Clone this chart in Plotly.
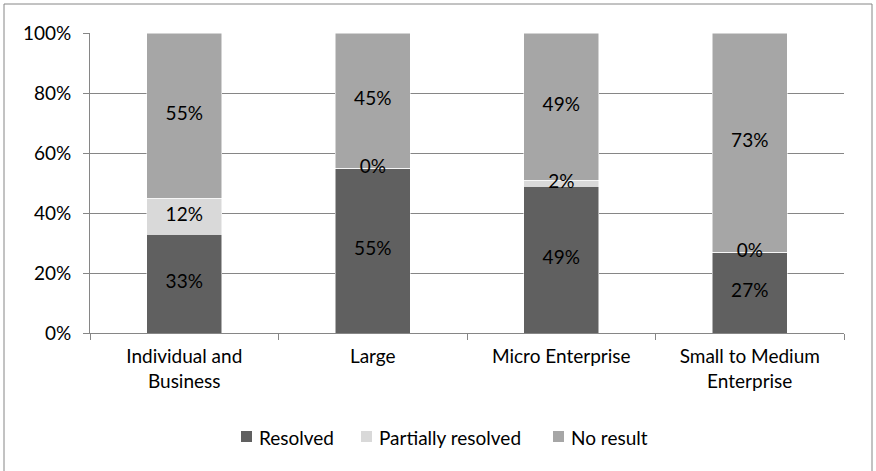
import plotly.graph_objects as go

categories = ["Individual and<br>Business", "Large", "Micro Enterprise", "Small to Medium<br>Enterprise"]
resolved = [33, 55, 49, 27]
partially_resolved = [12, 0, 2, 0]
no_result = [55, 45, 49, 73]

series = [
    ("Resolved", resolved, "#606060"),
    ("Partially resolved", partially_resolved, "#d9d9d9"),
    ("No result", no_result, "#a6a6a6"),
]

FONT = "Lato, Calibri, sans-serif"
FS = 19
W, H = 876, 471
ML, MR, MT, MB = 90, 32, 33, 138
pw = W - ML - MR
ph = H - MT - MB


def px_x(x):
    return (x - ML) / pw


def px_y(y):
    return (H - MB - y) / ph


fig = go.Figure()

# stacked 100% columns
for name, vals, color in series:
    fig.add_trace(go.Bar(
        x=categories, y=[v / 100 for v in vals], name=name, showlegend=False,
        marker=dict(color=color, line=dict(color="#ffffff", width=0.5)),
        hoverinfo="skip",
    ))

# value labels centred on each segment (including empty ones)
lx, ly, lt = [], [], []
for i, cat in enumerate(categories):
    base = 0
    for name, vals, color in series:
        v = vals[i]
        lx.append(cat)
        ly.append((base + v / 2) / 100)
        lt.append(f"{v}%")
        base += v
fig.add_trace(go.Scatter(
    x=lx, y=ly, text=lt, mode="text", showlegend=False,
    textfont=dict(family=FONT, size=FS, color="#000000"), hoverinfo="skip",
))

# outer chart frame
fig.add_shape(
    type="rect", xref="paper", yref="paper",
    x0=px_x(4), x1=px_x(872), y0=px_y(490), y1=px_y(4),
    line=dict(color="#868686", width=1), fillcolor="rgba(0,0,0,0)", layer="below",
)

# legend row: small square swatch followed by the series name
legend_left = [241, 361, 553]
for (name, vals, color), lx0 in zip(series, legend_left):
    fig.add_shape(
        type="rect", xref="paper", yref="paper",
        x0=px_x(lx0), x1=px_x(lx0 + 11), y0=px_y(442), y1=px_y(431),
        line=dict(width=0), fillcolor=color,
    )
    fig.add_annotation(
        xref="paper", yref="paper", x=px_x(lx0 + 16), y=px_y(437),
        xanchor="left", yanchor="middle", showarrow=False, text=name,
        font=dict(family=FONT, size=FS, color="#000000"),
    )

fig.update_layout(
    width=W, height=H, barmode="stack", bargap=0.6,
    margin=dict(l=ML, r=MR, t=MT, b=MB),
    paper_bgcolor="white", plot_bgcolor="white",
    font=dict(family=FONT, size=FS, color="#000000"),
    showlegend=False,
    xaxis=dict(showline=True, linecolor="#868686", linewidth=1,
               ticks="outside", tickson="boundaries", ticklen=6, tickcolor="#868686",
               showgrid=False, tickfont=dict(family=FONT, size=FS),
               ticklabelstandoff=6),
    yaxis=dict(range=[0, 1], tickformat=".0%", dtick=0.2,
               showline=True, linecolor="#868686", linewidth=1,
               ticks="outside", ticklen=6, tickcolor="#868686",
               showgrid=True, gridcolor="#868686", gridwidth=1,
               zeroline=False, tickfont=dict(family=FONT, size=FS),
               ticklabelstandoff=8),
)

fig.write_html("out.html")
